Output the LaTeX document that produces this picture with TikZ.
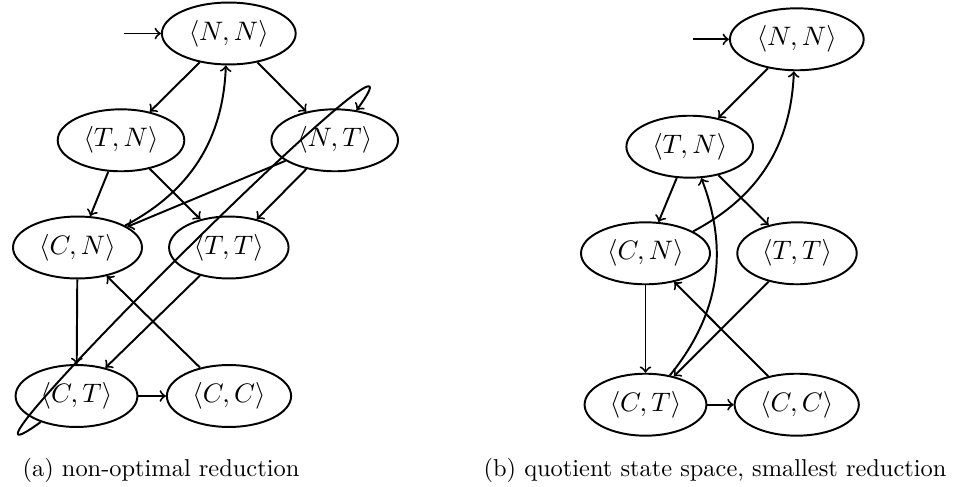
\documentclass[tikz,border=0pt]{standalone}
\usetikzlibrary{shapes.geometric}
\begin{document}
\begin{tikzpicture}[x=0.4098pt,y=0.4098pt,
  st/.style={draw,ellipse,thick,inner xsep=3pt,inner ysep=3.5pt,font=\fontsize{11}{13}\selectfont},
  tr/.style={->,thick},
  captext/.style={anchor=base,inner sep=0pt}]
\useasboundingbox (0,0) rectangle (954,-486);
% ---------- (a) ----------
\node[st] (aNN) at (228.8,-33.5) {$\langle N,N\rangle$};
\node[st] (aTN) at (121,-140.3) {$\langle T,N\rangle$};
\node[st] (aNT) at (334.7,-140.3) {$\langle N,T\rangle$};
\node[st] (aCN) at (77.5,-247.5) {$\langle C,N\rangle$};
\node[st] (aTT) at (228.8,-247.5) {$\langle T,T\rangle$};
\node[st] (aCT) at (76.5,-396) {$\langle C,T\rangle$};
\node[st] (aCC) at (229,-396) {$\langle C,C\rangle$};
\coordinate (aI) at (124,-33.5);
\draw[tr] (aI) -- (aNN);
\draw[tr] (aNN) -- (aTN);
\draw[tr] (aNN) -- (aNT);
\draw[tr] (aTN) -- (aCN);
\draw[tr] (aTN) -- (aTT);
\draw[tr] (aNT) -- (aTT);
\draw[tr] (aNT) -- (aCN);
\draw[tr] (aCN) to[bend right=30] (aNN);
\draw[tr] (aCN) -- (aCT);
\draw[tr] (aTT) -- (aCT);
\draw[tr] (aCC) -- (aCN);
\draw[tr] (aCT) -- (aCC);
\draw[tr] (aCT) to[out=216,in=54] (aNT);
\node[captext] (capA) at (161,-476) {(a) non-optimal reduction};
% ---------- (b) ----------
\node[st] (bNN) at (796.8,-39.3) {$\langle N,N\rangle$};
\node[st] (bTN) at (689.7,-146.7) {$\langle T,N\rangle$};
\node[st] (bCN) at (645.5,-253.3) {$\langle C,N\rangle$};
\node[st] (bTT) at (797,-253.3) {$\langle T,T\rangle$};
\node[st] (bCT) at (645.5,-404.7) {$\langle C,T\rangle$};
\node[st] (bCC) at (796.7,-404.7) {$\langle C,C\rangle$};
\coordinate (bI) at (693,-39.3);
\draw[tr] (bI) -- (bNN);
\draw[tr] (bNN) -- (bTN);
\draw[tr] (bTN) -- (bCN);
\draw[tr] (bTN) -- (bTT);
\draw[tr] (bCN) to[bend right=30] (bNN);
\draw[tr] (bCN) -- (bCT);
\draw[tr] (bTT) -- (bCT);
\draw[tr] (bCC) -- (bCN);
\draw[tr] (bCT) -- (bCC);
\draw[tr] (bCT) to[bend right=30] (bTN);
\node[captext] (capB) at (715,-476) {(b) quotient state space, smallest reduction};
\end{tikzpicture}
\end{document}
